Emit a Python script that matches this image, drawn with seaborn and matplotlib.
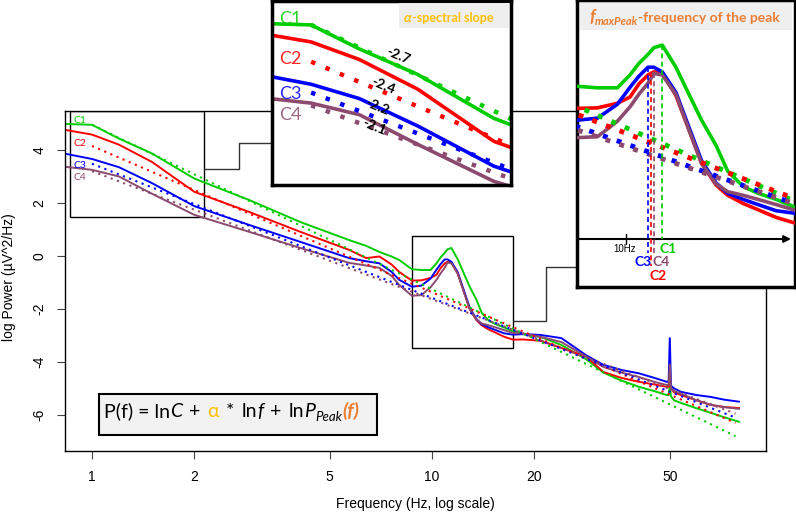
import numpy as np
import pandas as pd
import seaborn as sns
import matplotlib.pyplot as plt
from matplotlib.patches import Rectangle
from matplotlib.lines import Line2D
from matplotlib.ticker import NullLocator

W, H = 796, 520

channels = ['C1', 'C2', 'C3', 'C4']
colors = ['#00CD00', '#FF0000', '#0000FF', '#8B4A6E']

# spectra (log power vs frequency in Hz)
freq = [0.84, 1.0, 1.2, 1.5, 2.0, 2.9, 4.1, 5.7, 6.4, 7.0,
        7.6, 8.0, 8.72, 9.3, 9.9, 10.3, 10.6, 10.9, 11.1, 11.4,
        11.9, 12.4, 12.9, 13.5, 14.0, 14.7, 15.4, 16.3, 17.3, 18.5,
        20.8, 24.0, 28.4, 31.9, 36.0, 40.6, 45.0, 49.0, 49.6, 50.0,
        50.4, 51.5, 54.0, 60.0, 66.0, 72.0, 80.0]
c1_power = [4.98, 4.95, 4.43, 3.87, 2.92, 2.11, 1.28, 0.60, 0.38, 0.15,
            -0.02, -0.15, -0.50, -0.53, -0.53, -0.28, -0.05, 0.12, 0.25, 0.30,
            -0.13, -0.66, -1.16, -1.65, -2.15, -2.45, -2.58, -2.70, -2.85, -2.95,
            -3.05, -3.36, -3.90, -4.40, -4.70, -4.94, -5.10, -5.25, -5.25, -4.90,
            -5.30, -5.45, -5.55, -5.75, -5.92, -6.08, -6.26]
c2_power = [4.75, 4.58, 4.20, 3.55, 2.42, 1.66, 0.91, 0.23, -0.08, -0.02,
            -0.32, -0.60, -0.93, -0.92, -0.83, -0.71, -0.45, -0.28, -0.22, -0.24,
            -0.68, -1.35, -2.00, -2.42, -2.62, -2.78, -2.90, -3.05, -3.16, -3.15,
            -3.20, -3.47, -3.80, -4.38, -4.60, -4.75, -4.85, -4.94, -4.94, -4.60,
            -5.00, -5.15, -5.25, -5.45, -5.62, -5.70, -5.74]
c3_power = [3.85, 3.66, 3.35, 2.75, 1.88, 1.17, 0.53, -0.08, -0.20, -0.28,
            -0.60, -0.90, -1.16, -1.12, -0.85, -0.52, -0.30, -0.13, -0.13, -0.22,
            -0.62, -1.30, -1.95, -2.38, -2.58, -2.70, -2.80, -2.92, -2.97, -2.95,
            -2.98, -3.10, -3.75, -4.11, -4.30, -4.43, -4.60, -4.75, -4.75, -3.10,
            -4.90, -5.00, -5.13, -5.25, -5.32, -5.42, -5.50]
c4_power = [3.36, 3.25, 3.00, 2.35, 1.55, 0.91, 0.30, -0.26, -0.36, -0.45,
            -0.75, -1.09, -1.50, -1.48, -1.18, -0.90, -0.65, -0.44, -0.25, -0.28,
            -0.66, -1.35, -2.00, -2.40, -2.55, -2.62, -2.70, -2.80, -2.91, -2.92,
            -3.05, -3.25, -3.80, -4.19, -4.40, -4.57, -4.75, -4.87, -4.87, -4.10,
            -5.00, -5.10, -5.20, -5.45, -5.62, -5.70, -5.77]

# power-law fits (dotted), start / end values
fit_freq = [1.0, 78.0]
fit_start = [4.95, 4.15, 3.48, 3.20]
fit_end = [-6.80, -6.30, -6.10, -5.95]
slope_labels = ['-2.7', '-2.4', '-2.2', '-2.1']

# alpha peak
peak_freq = [11.4, 11.0, 10.9, 11.1]
peak_power = [0.30, -0.22, -0.13, -0.25]

xticks = [1, 2, 5, 10, 20, 50]
yticks = [-6, -4, -2, 0, 2, 4]

# zoomed regions
box1_f, box1_v = (0.862, 2.135), (1.47, 5.47)
box2_f, box2_v = (8.72, 17.3), (-3.47, 0.75)

df = pd.DataFrame({
    'freq': freq * 4,
    'power': c1_power + c2_power + c3_power + c4_power,
    'channel': [c for c in channels for _ in freq],
})

sns.set_style("ticks")
plt.rcParams['font.family'] = ['Liberation Sans', 'DejaVu Sans']
plt.rcParams['axes.unicode_minus'] = False
plt.rcParams['axes.edgecolor'] = 'black'
plt.rcParams['text.color'] = 'black'
plt.rcParams['axes.labelcolor'] = 'black'
plt.rcParams['xtick.color'] = 'black'
plt.rcParams['ytick.color'] = 'black'

CAL = ['Lato', 'DejaVu Sans']

fig = plt.figure(figsize=(W / 100, H / 100), dpi=100)
fig.patch.set_facecolor('white')


def add_ax(x0, y0, x1, y1):
    return fig.add_axes([x0 / W, 1 - y1 / H, (x1 - x0) / W, (y1 - y0) / H])


def ftext(x, y, s, **kw):
    return fig.text(x / W, 1 - y / H, s, **kw)


def rich(x, y, pieces):
    r = fig.canvas.get_renderer()
    for s, kw in pieces:
        kw = dict(kw)
        x += kw.pop('gap', 0)
        dy = kw.pop('dy', 0)
        t = ftext(x, y + dy, s, va='baseline', ha='left', **kw)
        x = t.get_window_extent(renderer=r).x1


def fig_rect(x0, y0, x1, y1, **kw):
    fig.add_artist(Rectangle((x0 / W, 1 - y1 / H), (x1 - x0) / W, (y1 - y0) / H,
                             transform=fig.transFigure, **kw))


def fig_path(xs, ys, **kw):
    fig.add_artist(Line2D([x / W for x in xs], [1 - y / H for y in ys],
                          transform=fig.transFigure, **kw))


def draw_spectra(ax, lw, fit_lw, dots):
    ax.set_xscale('log')
    sns.lineplot(data=df, x='freq', y='power', hue='channel', palette=colors,
                 legend=False, ax=ax, linewidth=lw)
    for col, y0, y1 in zip(colors, fit_start, fit_end):
        ax.plot(fit_freq, [y0, y1], color=col, lw=fit_lw, ls=(0, dots),
                dash_capstyle='butt')


# === main plot ===
ax = add_ax(65, 111, 766, 451)
draw_spectra(ax, 1.4, 1.5, (1, 2.2))
ax.set_xlim(0.833, 95.9)
ax.set_ylim(-7.36, 5.47)
ax.set_xticks(xticks)
ax.set_xticklabels([str(t) for t in xticks])
ax.xaxis.set_minor_locator(NullLocator())
ax.set_yticks(yticks)
ax.tick_params(length=5.5, width=0.8, color='#444444', labelsize=10, pad=8)
ax.tick_params(axis='y', labelrotation=90)
for lab in ax.get_yticklabels():
    lab.set_va('center')
for sp in ax.spines.values():
    sp.set_linewidth(1.0)
ax.set_xlabel('Frequency (Hz, log scale)', fontsize=10)
ax.xaxis.set_label_coords(0.5, -0.135)
ax.set_ylabel('log Power (\u00b5V^2/Hz)', fontsize=10)
ax.yaxis.set_label_coords(-0.07, 0.51)

for bf, bv in [(box1_f, box1_v), (box2_f, box2_v)]:
    ax.add_patch(Rectangle((bf[0], bv[0]), bf[1] - bf[0], bv[1] - bv[0],
                           fill=False, lw=1.0, ec='black'))

for c, col, y in zip(channels, colors, [120, 143, 166, 178]):
    ftext(73, y, c, color=col, fontsize=7.5, family=CAL, va='center')

# connectors to the insets
fig_path([204, 239, 239, 272], [169, 169, 143, 143], color='#333333', lw=1, zorder=1)
fig_path([513, 546, 546, 577], [321, 321, 267, 267], color='#333333', lw=1, zorder=1)

# formula box
fig_rect(99, 394, 377, 435, facecolor='#F2F2F2', edgecolor='black', lw=1.5, zorder=1)
rich(104, 417, [
    ('P(f) = ln', dict(fontsize=14, family=CAL)),
    ('C', dict(fontsize=14, family=CAL, style='italic')),
    ('+', dict(fontsize=14, family=CAL, gap=7)),
    ('\u03b1', dict(fontsize=14, family=CAL, color='#FFC000', gap=7)),
    ('*', dict(fontsize=14, family=CAL, gap=7)),
    ('ln', dict(fontsize=14, family=CAL, gap=7)),
    ('f', dict(fontsize=14, family=CAL, style='italic')),
    ('+', dict(fontsize=14, family=CAL, gap=7)),
    ('ln', dict(fontsize=14, family=CAL, gap=7)),
    ('P', dict(fontsize=14, family=CAL, style='italic')),
    ('Peak', dict(fontsize=9.5, family=CAL, style='italic', dy=4)),
    ('(f)', dict(fontsize=14, family=CAL, style='italic', weight='bold', color='#ED7D31')),
])

# === inset: spectral slope ===
ax1 = add_ax(272, 1, 511, 185)
ax1.set_zorder(2)
draw_spectra(ax1, 2.6, 3.2, (1, 2.5))
ax1.set_xlim(box1_f)
ax1.set_ylim(box1_v)
ax1.set_xticks([])
ax1.set_yticks([])
ax1.xaxis.set_minor_locator(NullLocator())
ax1.set_xlabel('')
ax1.set_ylabel('')
for sp in ax1.spines.values():
    sp.set_linewidth(2.5)

fig_rect(399, 3, 509, 28, facecolor='#EEEEEE', lw=0, zorder=2.7)
rich(404, 22, [
    ('\u03b1', dict(fontsize=10, family=CAL, style='italic', weight='bold', color='#FFC000')),
    ('-spectral slope', dict(fontsize=9, family=CAL, weight='bold', color='#FFC000')),
])
for c, col, y in zip(channels, colors, [19, 59, 94, 115]):
    ftext(279, y, c, color=col, fontsize=13, family=CAL, va='center', alpha=0.85)
for s, (x, y) in zip(slope_labels, [(398, 56), (383, 86), (377, 107), (374, 127)]):
    ftext(x, y, s, fontsize=10, family=CAL, weight='bold', rotation=-22,
          ha='center', va='center')

# === inset: peak frequency ===
frame = add_ax(577, 0, 795, 287)
frame.set_zorder(2)
frame.set_xlim(0, 218)
frame.set_ylim(287, 0)
frame.set_xticks([])
frame.set_yticks([])
for sp in frame.spines.values():
    sp.set_linewidth(2.5)
frame.add_patch(Rectangle((3, 2), 212, 28, facecolor='#EFEFEF', lw=0))
frame.annotate('', xy=(214, 239), xytext=(0, 239),
               arrowprops=dict(arrowstyle='-|>', color='black', lw=1.5,
                               mutation_scale=10, shrinkA=0, shrinkB=0))
frame.plot([49, 49], [234, 244], color='black', lw=1)
frame.text(48, 249, '10Hz', fontsize=7, ha='center', va='center')

ax2 = add_ax(577, 22, 795, 239)
ax2.set_zorder(2.5)
draw_spectra(ax2, 2.6, 3.5, (1, 2))
ax2.set_xlim(box2_f)
ax2.set_ylim(box2_v)
ax2.axis('off')
for pf, pp, col, low in zip(peak_freq, peak_power, colors, [-3.47, -4.0, -3.75, -3.75]):
    ax2.plot([pf, pf], [pp, low], ls=(0, (3, 2)), lw=1.2, color=col, clip_on=False)

rich(589, 22, [
    ('f', dict(fontsize=12.5, family=CAL, style='italic', weight='bold', color='#ED7D31')),
    ('maxPeak', dict(fontsize=8, family=CAL, style='italic', weight='bold', color='#ED7D31', dy=3)),
    ('-frequency of the peak', dict(fontsize=10, family=CAL, weight='bold', color='#ED7D31')),
])
for c, col, (x, y) in zip(channels, colors, [(668, 249), (658, 276), (643, 262), (661, 262)]):
    ftext(x, y, c, color=col, fontsize=10, family=CAL, weight='bold', ha='center', va='center')

fig.savefig('out.png', dpi=100, facecolor='white')
